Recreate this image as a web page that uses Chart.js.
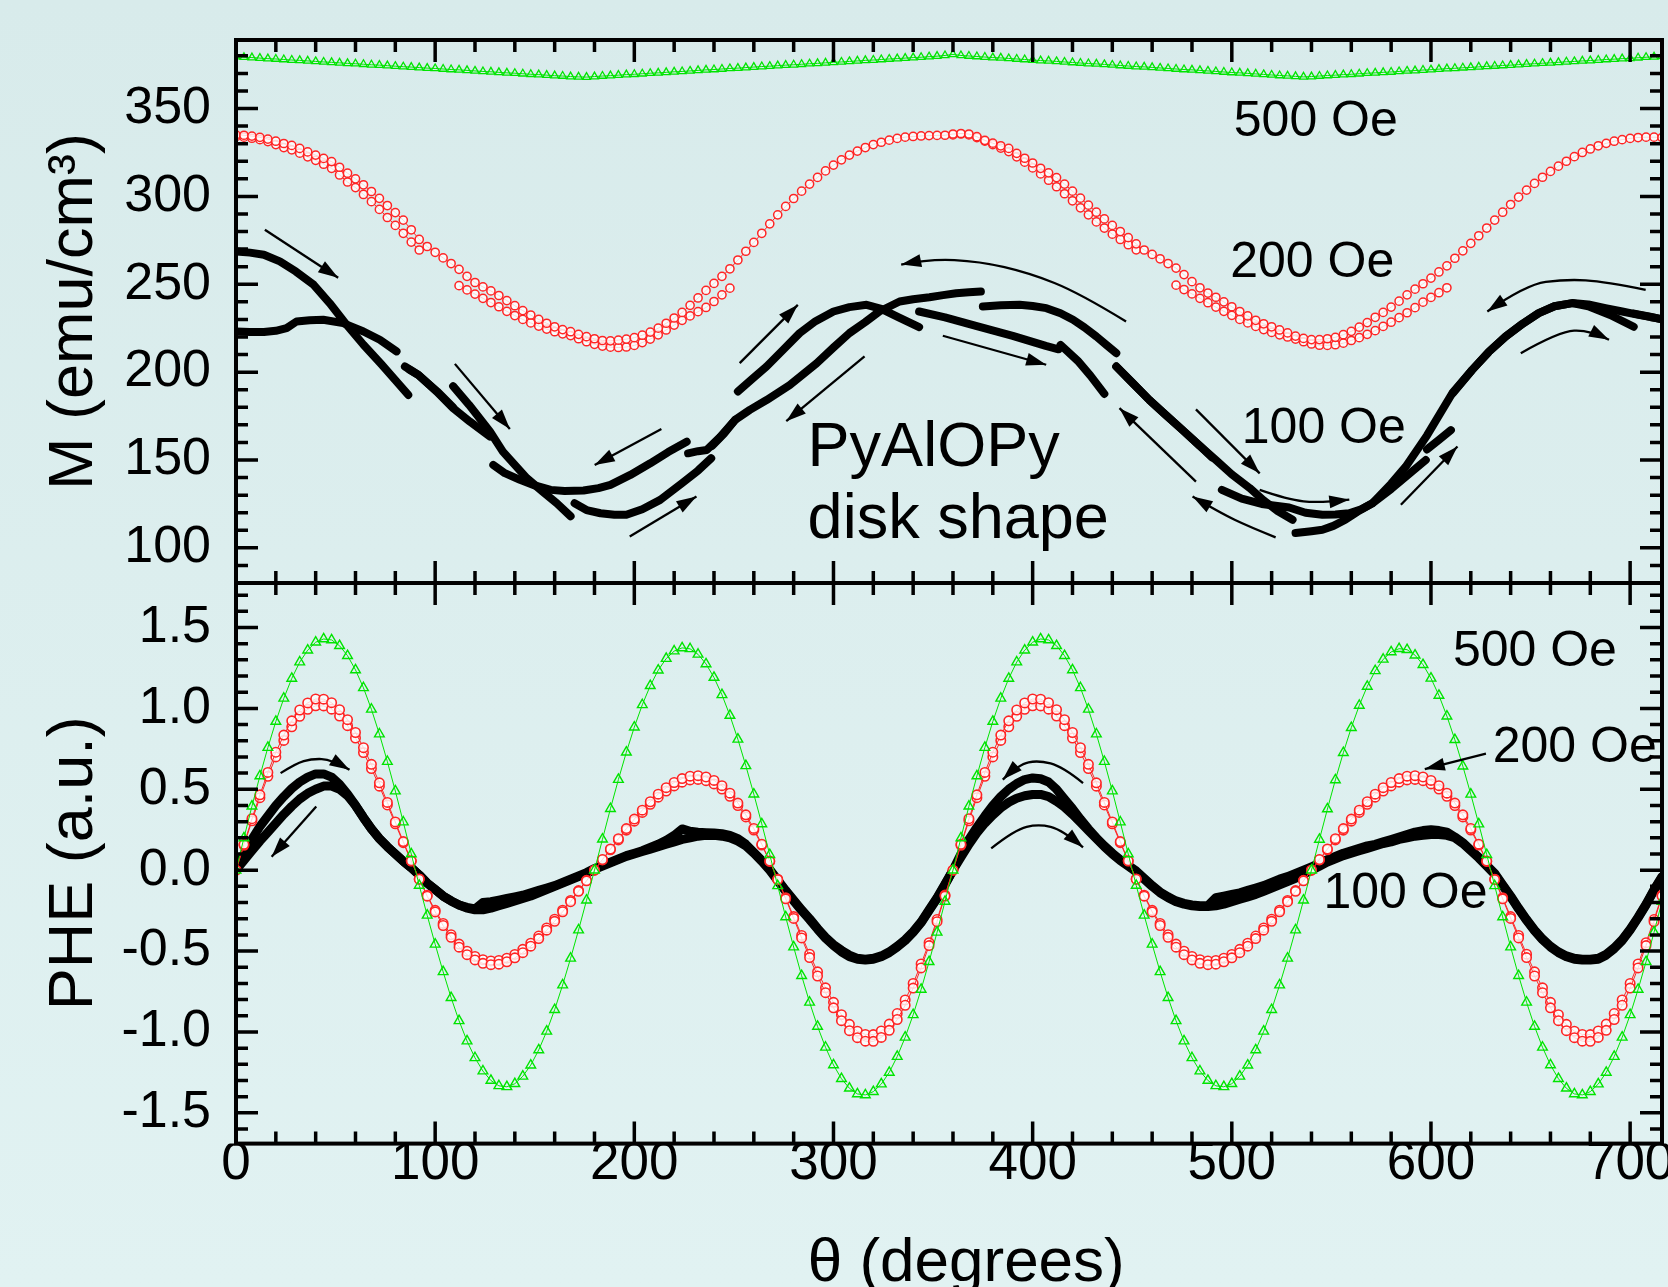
<!DOCTYPE html>
<html>
<head>
<meta charset="utf-8">
<script src="https://cdn.jsdelivr.net/npm/chart.js"></script>
<style>
  html, body { margin: 0; padding: 0; overflow: hidden; width: 1668px; height: 1287px;
    background: linear-gradient(#d8ebeb, #e1f2f2); }
  .panel { position: absolute; left: 0; top: 0; width: 1700px; height: 1330px; }
</style>
</head>
<body>
<div class="panel"><canvas id="bottomChart" width="1700" height="1330"></canvas></div>
<div class="panel"><canvas id="topChart" width="1700" height="1330"></canvas></div>
<script>
// rotation angle grid (degrees), same for every gridded series
const theta = [
  0,4,8,12,16,20,24,28,32,36,40,44,48,52,56,60,64,68,72,76,80,84,88,92,96,
  100,104,108,112,116,120,124,128,132,136,140,144,148,152,156,160,164,168,172,176,180,184,188,192,196,
  200,204,208,212,216,220,224,228,232,236,240,244,248,252,256,260,264,268,272,276,280,284,288,292,296,
  300,304,308,312,316,320,324,328,332,336,340,344,348,352,356,360,364,368,372,376,380,384,388,392,396,
  400,404,408,412,416,420,424,428,432,436,440,444,448,452,456,460,464,468,472,476,480,484,488,492,496,
  500,504,508,512,516,520,524,528,532,536,540,544,548,552,556,560,564,568,572,576,580,584,588,592,596,
  600,604,608,612,616,620,624,628,632,636,640,644,648,652,656,660,664,668,672,676,680,684,688,692,696,
  700,704,708,712,716
];

// ---- top panel: M (emu/cm3) ----
const mGreen500 = [
  379.5,379.2,379.0,378.7,378.4,378.2,377.9,377.6,377.4,377.1,376.8,376.5,376.3,376.0,375.7,375.5,375.2,374.9,374.7,374.4,374.1,373.8,373.6,373.3,373.0,
  372.8,372.5,372.2,372.0,371.7,371.4,371.1,370.9,370.6,370.3,370.1,369.8,369.5,369.3,369.0,368.7,368.5,368.2,368.0,367.9,368.2,368.5,368.7,369.0,369.3,
  369.5,369.8,370.1,370.3,370.6,370.9,371.1,371.4,371.7,372.0,372.2,372.5,372.8,373.0,373.3,373.6,373.9,374.1,374.4,374.7,374.9,375.2,375.5,375.7,376.0,
  376.3,376.5,376.8,377.1,377.4,377.6,377.9,378.2,378.4,378.7,379.0,379.2,379.5,379.8,380.2,380.8,380.2,379.9,379.6,379.3,379.0,378.8,378.5,378.2,377.9,
  377.6,377.3,377.1,376.8,376.5,376.2,375.9,375.6,375.4,375.1,374.8,374.5,374.2,373.9,373.7,373.4,373.1,372.8,372.5,372.2,372.0,371.7,371.4,371.1,370.8,
  370.5,370.3,370.0,369.7,369.4,369.1,368.8,368.6,368.3,368.0,368.2,368.5,368.8,369.0,369.3,369.5,369.8,370.1,370.3,370.6,370.8,371.1,371.4,371.6,371.9,
  372.1,372.4,372.7,372.9,373.2,373.4,373.7,374.0,374.2,374.5,374.7,375.0,375.3,375.5,375.8,376.0,376.3,376.6,376.8,377.1,377.3,377.6,377.9,378.1,378.4,
  378.6,378.9,379.2,379.4,379.7
];
const mRed200a = [
  335,334.8,334.3,333.6,332.6,331.4,330.1,329,327.3,325.3,323.5,321.6,319.8,316.6,313.2,310,306.6,302.8,298.9,294.8,290.8,286.5,281,275.5,271.5,
  268.2,265,261.8,258.5,254.5,251,248.5,246.2,243.6,240.7,237.8,235,232.5,230,227.8,225.8,224.2,223,221.5,220.2,219,218,217.8,218.2,218.8,
  219.6,221,222.8,225,227.8,230.8,234,238,242.2,246.5,250.5,254.5,258.8,263.8,268.8,273.8,279,284.4,289.5,294.3,298.8,303,307,310.8,314.5,
  317.8,320.8,323.5,325.8,327.8,329.5,330.8,332,333,333.7,334.1,334.4,334.6,334.7,334.8,335.5,335.8,335.5,334,331.9,330.3,328.8,327.3,324.5,321.7,
  319,316,313.4,310.7,307,303,299,295,291,287.2,283.5,280,276.5,273,269.5,267,264.5,261.8,259.2,255.5,251.5,248,245,242.6,240,
  237.2,234.5,232,229.5,227.5,225.8,224,222.3,220.5,219.2,218.5,218.5,219,219.8,221.3,223.2,225.6,228.2,231.2,234,237,240.4,244,247.2,250.3,
  253.5,257,260.5,264.8,269,273.3,277.6,282,286.5,291,295.4,299.6,303.6,307.4,310.9,314.2,317.2,320,322.6,325,327,328.8,330.2,331.4,332.3,
  333,333.5,333.7,333.7,333.5
];
const mRed200b = [
  334,333.7,333.1,332.3,331.2,329.5,327.8,326.5,324.6,322.5,320.5,318.3,316,312.2,308.2,305,301.1,297,292.6,288,283.5,279,274,269.5,null,
  null,null,null,249.2,246.8,244.4,242,239.6,237.2,234.6,232.2,230,228,226.2,224.5,223,221.8,220.8,219,217.3,215.8,214.8,214.2,214,214.3,
  215.2,216.8,218.8,221.2,224,226.8,229.5,232,234.4,236.8,240.2,244,247.8,null,null,null,null,null,null,null,null,null,null,null,null,
  null,null,null,null,null,null,null,null,null,null,null,null,null,null,null,335,335.5,335,333.5,331.5,329.5,327.5,325.5,322.5,319.5,
  316.2,312.8,309.2,305.5,301.5,297.5,293.5,289.5,285.5,282,278.5,275.5,272.5,269.6,null,null,null,null,249.5,247,244.5,242,239.5,237,234.6,
  232.3,230,228,226,224.2,222.6,221.2,220,218.8,217.3,216,215.3,215.2,215.6,216.5,218,219.6,221.5,223.6,226,228.4,231,233.8,236.7,239.8,
  242.5,245.2,248,null,null,null,null,null,null,null,null,null,null,null,null,null,null,null,null,null,null,null,null,null,null,
  null,null,null,null,null
];
// 100 Oe branches as [theta, M] points; null = jump between measured segments
const mBlack100fwd = [
  [0,268.7],[7,268],[14,266.8],[22,263],[30,257.3],[39,249.7],[47,239.3],[55.5,227],[64,215.6],[73,204.5],[80,195.5],[86.5,187], null,
  [87,201.5],[92,198],[101,189],[109,180], null,
  [109,192],[117,181.4],[127.5,166.2],[134,154.8],[146,139.7],[154,132],[161,125.5],[168,118], null,
  [170,125.4],[176,121.5],[183,119.7],[190,118.8],[196,118.8],[204,122],[213,127.3],[224,136.8],[232,144],[238.6,151], null,
  [239,158],[245,165],[250.6,172.8], null,
  [252,189],[259,196],[266.4,203.2],[275,213],[283,222.2],[291,229],[300,234.5],[308,237],[316.6,238.3],[324,236],[333,231],[343,225.6], null,
  [343,234.5],[356,231.1],[371.5,226.3],[390,220.6],[406.6,214.9],[413,213], null,
  [414,215.5],[422.6,206.5],[429,198],[436,187.6], null,
  [442,203.2],[450,194],[458.6,184.1],[467,175.5],[475.3,167],[484,158],[492,150],[500,141.8],[509,134],[516,127],[523,121],[530.5,116], null,
  [532,108.4],[540,109.5],[545.5,110.3],[551,112.5],[557,116],[563,120.5],[570.6,125.4],[580,133.5],[589,142],[597.4,150], null,
  [598,156],[604,161.5],[610,167], null,
  [611,188],[620.7,201.3],[629,211.5],[637.5,220.3],[646,227.5],[654,233.6],[662,237.5],[671,239.3],[679,237.5],[690,232.5],[701.8,225.8], null,
  [702,233.3],[710,231.5],[716,230]
];
const mBlack100back = [
  [0,223.1],[7,222.8],[14,222.8],[20,223.5],[25.4,225],[30.4,228.8],[37,229.5],[43.8,229.8],[53.8,227.9],[64,223.1],[72.2,218.4],[80.6,211.8], null,
  [84.8,203.2],[91.5,198.5],[100.7,189],[109,179.5],[117.4,171.9],[127.5,163.4], null,
  [129.2,147.2],[135,142.5],[142.6,138.7],[150,135.5],[158,133],[165,132.4],[174.5,132.6],[182,134],[188,135.8],[198,141.5],[208,148.1],[217,154.5],[226.3,160.4], null,
  [227,153.8],[232,155],[236.4,155.7],[243,163],[250.6,172.8],[258,178.5],[266.4,184.1],[278,192.6],[291.5,205],[300,214],[308,222.2],[316,228.5],[323,234.5],
  [333.2,240.2],[340,241.5],[348.2,242.6],[355,243.8],[361.6,244.9],[368,245.4],[374,245.9], null,
  [375,237.4],[384,238],[393.5,238.3],[400,237.6],[406.9,236.4],[414,233.5],[420.3,229.8],[426,225.5],[432,220.3],[437,215.5],[442,210.8], null,
  [442,203.2],[450,194],[458.6,184.1],[467,175.5],[475.3,167],[484,158],[490,151.5], null,
  [495,133],[505,128],[515,125],[528.8,123],[537,120],[545.5,118.8],[552,119],[558.9,119.7],[565,122],[570.6,125.4],[580,136.5],[587.3,146.2],[598,164],
  [610.7,188],[620.7,201.3],[629,211.5],[637.5,220.3],[646,227.5],[654.2,233.6],[662,237.5],[670.9,239.3],[679,238.5],[687.6,236.4],[696,234.5],[704.3,232.6],[712,231],[716,230]
];

// ---- bottom panel: PHE (a.u.) ----
const pheGreen500 = [
  0,0.199,0.395,0.582,0.758,0.919,1.062,1.185,1.286,1.360,1.409,1.429,1.423,1.387,1.326,1.238,1.127,0.994,0.841,0.671,0.489,0.297,0.100,
  -0.094,-0.279,-0.458,-0.628,-0.788,-0.931,-1.056,-1.160,-1.242,-1.300,-1.333,-1.339,-1.320,-1.274,-1.205,-1.111,-0.996,-0.862,-0.710,-0.545,-0.370,-0.186,
  0,0.191,0.380,0.560,0.729,0.884,1.022,1.140,1.236,1.308,1.354,1.374,1.368,1.334,1.275,1.191,1.084,0.956,0.809,0.645,0.470,0.286,0.096,
  -0.097,-0.289,-0.475,-0.652,-0.817,-0.966,-1.095,-1.204,-1.289,-1.348,-1.383,-1.389,-1.369,-1.322,-1.250,-1.152,-1.033,-0.894,-0.737,-0.566,-0.384,-0.193,
  0,0.199,0.395,0.582,0.758,0.919,1.062,1.185,1.286,1.360,1.409,1.429,1.423,1.387,1.326,1.238,1.127,0.994,0.841,0.671,0.489,0.297,0.100,
  -0.094,-0.279,-0.458,-0.628,-0.788,-0.931,-1.056,-1.160,-1.242,-1.300,-1.333,-1.339,-1.320,-1.274,-1.205,-1.111,-0.996,-0.862,-0.710,-0.545,-0.370,-0.186,
  0,0.190,0.378,0.558,0.726,0.881,1.018,1.136,1.232,1.303,1.349,1.369,1.363,1.329,1.270,1.186,1.080,0.952,0.806,0.643,0.469,0.285,0.096,
  -0.097,-0.289,-0.475,-0.652,-0.817,-0.966,-1.095,-1.204,-1.289,-1.348,-1.383,-1.389,-1.369,-1.322,-1.250,-1.152,-1.033,-0.894,-0.737,-0.566,-0.384,-0.193
];
const pheRed200a = [
  0,0.160,0.318,0.466,0.604,0.729,0.835,0.923,0.990,1.034,1.058,1.057,1.035,0.992,0.930,0.851,0.757,0.654,0.540,0.419,0.298,0.177,0.058,
  -0.056,-0.161,-0.258,-0.342,-0.415,-0.476,-0.522,-0.555,-0.576,-0.584,-0.581,-0.566,-0.542,-0.510,-0.470,-0.423,-0.371,-0.316,-0.257,-0.195,-0.131,-0.066,
  0,0.066,0.131,0.195,0.257,0.316,0.371,0.423,0.470,0.510,0.542,0.566,0.581,0.584,0.576,0.555,0.522,0.476,0.415,0.342,0.258,0.161,0.056,
  -0.058,-0.177,-0.298,-0.419,-0.540,-0.654,-0.757,-0.851,-0.930,-0.992,-1.035,-1.057,-1.058,-1.034,-0.990,-0.923,-0.835,-0.729,-0.604,-0.466,-0.318,-0.160,
  0,0.160,0.318,0.466,0.604,0.729,0.835,0.923,0.990,1.034,1.058,1.057,1.035,0.992,0.930,0.851,0.757,0.654,0.540,0.419,0.298,0.177,0.058,
  -0.056,-0.161,-0.258,-0.342,-0.415,-0.476,-0.522,-0.555,-0.576,-0.584,-0.581,-0.566,-0.542,-0.510,-0.470,-0.423,-0.371,-0.316,-0.257,-0.195,-0.131,-0.066,
  0,0.066,0.131,0.195,0.257,0.316,0.371,0.423,0.470,0.510,0.542,0.566,0.581,0.584,0.576,0.555,0.522,0.476,0.415,0.342,0.258,0.161,0.056,
  -0.058,-0.177,-0.298,-0.419,-0.540,-0.654,-0.757,-0.851,-0.930,-0.992,-1.035,-1.057,-1.058,-1.034,-0.990,-0.923,-0.835,-0.729,-0.604,-0.466,-0.318,-0.160
];
const pheRed200b = [
  0,0.154,0.305,0.448,0.580,0.700,0.802,0.886,0.951,0.994,1.016,1.015,0.995,0.953,0.893,0.817,0.727,0.628,0.519,0.403,0.287,0.170,0.056,
  -0.054,-0.155,-0.248,-0.329,-0.399,-0.457,-0.501,-0.533,-0.553,-0.561,-0.558,-0.544,-0.521,-0.489,-0.451,-0.407,-0.357,-0.303,-0.247,-0.187,-0.126,-0.063,
  0,0.063,0.126,0.187,0.247,0.303,0.357,0.407,0.451,0.489,0.521,0.544,0.558,0.561,0.553,0.533,0.501,0.457,0.399,0.329,0.248,0.155,0.054,
  -0.056,-0.170,-0.287,-0.403,-0.519,-0.628,-0.727,-0.817,-0.893,-0.953,-0.995,-1.015,-1.016,-0.994,-0.951,-0.886,-0.802,-0.700,-0.580,-0.448,-0.305,-0.154,
  0,0.154,0.305,0.448,0.580,0.700,0.802,0.886,0.951,0.994,1.016,1.015,0.995,0.953,0.893,0.817,0.727,0.628,0.519,0.403,0.287,0.170,0.056,
  -0.054,-0.155,-0.248,-0.329,-0.399,-0.457,-0.501,-0.533,-0.553,-0.561,-0.558,-0.544,-0.521,-0.489,-0.451,-0.407,-0.357,-0.303,-0.247,-0.187,-0.126,-0.063,
  0,0.063,0.126,0.187,0.247,0.303,0.357,0.407,0.451,0.489,0.521,0.544,0.558,0.561,0.553,0.533,0.501,0.457,0.399,0.329,0.248,0.155,0.054,
  -0.056,-0.170,-0.287,-0.403,-0.519,-0.628,-0.727,-0.817,-0.893,-0.953,-0.995,-1.015,-1.016,-0.994,-0.951,-0.886,-0.802,-0.700,-0.580,-0.448,-0.305,-0.154
];
const pheBlack100a = [
  0,0.1,0.19,0.27,0.335,0.4,0.455,0.505,0.545,0.575,0.595,0.595,0.575,0.53,0.47,0.4,0.325,0.255,0.195,0.145,0.1,0.055,0.015,-0.03,-0.08,
  -0.12,-0.16,-0.19,-0.215,-0.23,-0.24,-0.2,-0.195,-0.185,-0.175,-0.165,-0.155,-0.14,-0.125,-0.11,-0.095,-0.075,-0.055,-0.035,-0.015,0.01,0.03,0.05,0.07,0.09,
  0.105,0.12,0.14,0.16,0.185,0.215,0.255,0.24,0.235,0.232,0.23,0.225,0.215,0.195,0.16,0.11,0.06,0.005,-0.06,-0.125,-0.185,-0.245,-0.3,-0.36,-0.415,
  -0.46,-0.495,-0.525,-0.545,-0.55,-0.545,-0.53,-0.505,-0.47,-0.43,-0.38,-0.32,-0.245,-0.17,-0.085,0,0.1,0.19,0.265,0.335,0.4,0.455,0.5,0.535,0.56,
  0.57,0.565,0.545,0.5,0.44,0.38,0.315,0.255,0.2,0.15,0.105,0.065,0.03,-0.005,-0.05,-0.095,-0.135,-0.165,-0.19,-0.205,-0.215,-0.22,-0.22,-0.17,-0.16,
  -0.15,-0.14,-0.125,-0.11,-0.095,-0.075,-0.055,-0.04,-0.02,0,0.02,0.045,0.065,0.085,0.105,0.12,0.135,0.15,0.16,0.175,0.19,0.205,0.22,0.235,0.245,
  0.25,0.245,0.235,0.205,0.17,0.125,0.08,0.03,-0.02,-0.09,-0.16,-0.235,-0.305,-0.37,-0.425,-0.47,-0.505,-0.53,-0.545,-0.55,-0.55,-0.545,-0.52,-0.48,-0.43,
  -0.365,-0.29,-0.21,-0.12,-0.04
];
const pheBlack100b = [
  0,0.06,0.12,0.18,0.235,0.29,0.345,0.395,0.44,0.475,0.5,0.52,0.52,0.5,0.46,0.4,0.325,0.255,0.195,0.145,0.1,0.055,0.015,-0.03,-0.08,
  -0.12,-0.16,-0.19,-0.215,-0.235,-0.245,-0.245,-0.235,-0.22,-0.205,-0.19,-0.175,-0.16,-0.14,-0.12,-0.1,-0.08,-0.06,-0.04,-0.02,0.005,0.025,0.045,0.065,0.085,
  0.1,0.115,0.13,0.145,0.16,0.175,0.19,0.2,0.21,0.215,0.215,0.21,0.2,0.18,0.15,0.105,0.055,0,-0.065,-0.13,-0.19,-0.25,-0.305,-0.365,-0.42,
  -0.465,-0.505,-0.535,-0.55,-0.555,-0.55,-0.535,-0.51,-0.475,-0.435,-0.385,-0.325,-0.25,-0.175,-0.09,0,0.08,0.16,0.23,0.29,0.34,0.385,0.42,0.445,0.46,
  0.468,0.468,0.455,0.425,0.39,0.345,0.295,0.245,0.195,0.145,0.1,0.06,0.025,-0.01,-0.055,-0.1,-0.14,-0.17,-0.195,-0.21,-0.22,-0.225,-0.225,-0.22,-0.21,
  -0.195,-0.18,-0.165,-0.15,-0.13,-0.11,-0.09,-0.07,-0.05,-0.025,0,0.025,0.05,0.07,0.09,0.105,0.12,0.135,0.15,0.165,0.175,0.19,0.2,0.21,0.215,
  0.22,0.22,0.215,0.2,0.165,0.12,0.075,0.025,-0.025,-0.095,-0.165,-0.24,-0.31,-0.375,-0.43,-0.475,-0.51,-0.535,-0.55,-0.555,-0.555,-0.55,-0.525,-0.485,-0.435,
  -0.37,-0.295,-0.215,-0.125,-0.045
];

// ---- ticks ----
const xTicks = [0,20,40,60,80,100,120,140,160,180,200,220,240,260,280,300,320,340,360,380,400,420,440,460,480,500,520,540,560,580,600,620,640,660,680,700];
const xMajor = [0,100,200,300,400,500,600,700];
const topYTicks = [80,90,100,110,120,130,140,150,160,170,180,190,200,210,220,230,240,250,260,270,280,290,300,310,320,330,340,350,360,370,380];
const topYMajor = [100,150,200,250,300,350];
const botYTicks = [-1.6,-1.5,-1.4,-1.3,-1.2,-1.1,-1.0,-0.9,-0.8,-0.7,-0.6,-0.5,-0.4,-0.3,-0.2,-0.1,0,0.1,0.2,0.3,0.4,0.5,0.6,0.7,0.8,0.9,1.0,1.1,1.2,1.3,1.4,1.5,1.6,1.7];
const botYMajor = [-1.5,-1.0,-0.5,0,0.5,1.0,1.5];
const botYMajorText = ['-1.5','-1.0','-0.5','0.0','0.5','1.0','1.5'];

// ---- annotations (data coordinates) ----
const topNotes = [
  ['500 Oe', 501, 334.5, 50], ['200 Oe', 499.2, 254, 50], ['100 Oe', 505, 159.6, 50],
  ['PyAlOPy', 287, 146.5, 63], ['disk shape', 287, 105.5, 63]
];
const topArrows = [
  [[14.5,281],[51.3,253.7]],
  [[109.9,204.7],[137.5,167.6]],
  [[213.6,167.6],[180.1,147.2]],
  [[197.7,106.4],[231.2,129.2]],
  [[252.9,205.1],[282.1,238.3]],
  [[315.6,208.9],[276.3,172.1]],
  [[446.9,228.8],[423.5,245],[398.4,256.4],[373.3,263],[348.2,264.4],[334,261.2]],
  [[354.9,220.7],[406.8,204.2]],
  [[482,137.7],[443.6,179.5]],
  [[482,178.8],[514,142.4]],
  [[522,106],[508.8,112],[494,120],[480.3,129.2]],
  [[514,133],[528,127.5],[544,125.5],[559,127.5]],
  [[584.9,124.5],[613.3,157.7]],
  [[707.8,246.8],[687.7,251.6],[667.7,252.9],[647.6,249.7],[628.3,234.5]],
  [[645.1,210.8],[664.3,223.1],[679.4,224.1],[689.4,218.4]]
];
const botNotes = [
  ['500 Oe', 611, 1.265, 50], ['200 Oe', 631, 0.668, 50], ['100 Oe', 546, -0.236, 50]
];
const botArrows = [
  [[22.4,0.6],[30,0.66],[38,0.689],[48,0.685],[57,0.62]],
  [[40.3,0.394],[17.9,0.083]],
  [[425.3,0.538],[415,0.64],[403,0.679],[393,0.655],[385,0.56]],
  [[379.2,0.135],[391,0.25],[403,0.286],[415,0.25],[425.3,0.141]],
  [[627.6,0.72],[596.9,0.625]]
];

const FONT = "'Liberation Sans', Arial, Helvetica, sans-serif";
const GREEN = '#00e400';
const RED = '#ff2424';

function gridSeries(ys) {
  return theta.map((t, i) => ({ x: t, y: ys[i] }));
}
function pairSeries(pairs) {
  let lastX = 0;
  return pairs.map(p => {
    if (!p) return { x: lastX, y: null };
    lastX = p[0];
    return { x: p[0], y: p[1] };
  });
}

// frame + inward ticks on all four sides
function makeFrame(yTicks, yMajor) {
  return {
    id: 'frame',
    afterDatasetsDraw(chart) {
      const { ctx, chartArea: a, scales } = chart;
      ctx.save();
      ctx.strokeStyle = '#000';
      ctx.lineWidth = 3.5;
      ctx.beginPath();
      xTicks.forEach(v => {
        const px = scales.x.getPixelForValue(v);
        const len = xMajor.includes(v) ? 22 : 12;
        ctx.moveTo(px, a.top); ctx.lineTo(px, a.top + len);
        ctx.moveTo(px, a.bottom); ctx.lineTo(px, a.bottom - len);
      });
      yTicks.forEach(v => {
        const py = scales.y.getPixelForValue(v);
        const len = yMajor.some(m => Math.abs(m - v) < 1e-6) ? 22 : 12;
        ctx.moveTo(a.left, py); ctx.lineTo(a.left + len, py);
        ctx.moveTo(a.right, py); ctx.lineTo(a.right - len, py);
      });
      ctx.stroke();
      ctx.lineWidth = 4;
      ctx.strokeRect(a.left, a.top, a.right - a.left, a.bottom - a.top);
      ctx.restore();
    }
  };
}

function drawArrow(ctx, pts) {
  const n = pts.length;
  ctx.beginPath();
  ctx.moveTo(pts[0][0], pts[0][1]);
  if (n === 2) {
    ctx.lineTo(pts[1][0], pts[1][1]);
  } else {
    for (let i = 1; i < n - 1; i++) {
      const last = i === n - 2;
      const ex = last ? pts[i + 1][0] : (pts[i][0] + pts[i + 1][0]) / 2;
      const ey = last ? pts[i + 1][1] : (pts[i][1] + pts[i + 1][1]) / 2;
      ctx.quadraticCurveTo(pts[i][0], pts[i][1], ex, ey);
    }
  }
  ctx.stroke();
  const [x1, y1] = pts[n - 2], [x2, y2] = pts[n - 1];
  const ang = Math.atan2(y2 - y1, x2 - x1);
  const L = 20, W = 6.5;
  const bx = x2 - L * Math.cos(ang), by = y2 - L * Math.sin(ang);
  ctx.beginPath();
  ctx.moveTo(x2, y2);
  ctx.lineTo(bx + W * Math.sin(ang), by - W * Math.cos(ang));
  ctx.lineTo(bx - W * Math.sin(ang), by + W * Math.cos(ang));
  ctx.closePath();
  ctx.fill();
}

function makeNotes(notes, arrows) {
  return {
    id: 'notes',
    afterDatasetsDraw(chart) {
      const { ctx, scales: { x, y } } = chart;
      ctx.save();
      ctx.fillStyle = '#000';
      ctx.strokeStyle = '#000';
      ctx.lineWidth = 2.3;
      arrows.forEach(arr => drawArrow(ctx, arr.map(p => [x.getPixelForValue(p[0]), y.getPixelForValue(p[1])])));
      ctx.textAlign = 'left';
      ctx.textBaseline = 'alphabetic';
      notes.forEach(([txt, tx, ty, size]) => {
        ctx.font = size + 'px ' + FONT;
        ctx.fillText(txt, x.getPixelForValue(tx), y.getPixelForValue(ty));
      });
      ctx.restore();
    }
  };
}

function yAxis(min, max, ticks, labelFn, title) {
  return {
    type: 'linear', min: min, max: max,
    afterBuildTicks: s => { s.ticks = ticks.map(v => ({ value: v })); },
    afterFit: s => { s.width = 220; s.paddingTop = 0; s.paddingBottom = 0; },
    grid: { display: false, drawTicks: false },
    border: { display: false },
    ticks: { autoSkip: false, padding: 25, color: '#000', font: { family: FONT, size: 52 }, callback: labelFn },
    title: { display: true, text: title, color: '#000', font: { family: FONT, size: 63 }, padding: { top: 21, bottom: 0 } }
  };
}

const markerBase = { showLine: true, borderWidth: 1, pointHoverRadius: 0 };

// top panel
new Chart(document.getElementById('topChart'), {
  type: 'line',
  data: {
    datasets: [
      Object.assign({}, markerBase, { label: '500 Oe', data: gridSeries(mGreen500), borderColor: GREEN,
        pointStyle: 'triangle', pointRadius: 4.5, pointBorderWidth: 1.3, pointBorderColor: GREEN, pointBackgroundColor: 'rgba(0,0,0,0)', order: 1 }),
      Object.assign({}, markerBase, { label: '200 Oe', data: gridSeries(mRed200a), borderColor: RED,
        pointStyle: 'circle', pointRadius: 4.1, pointBorderWidth: 1.5, pointBorderColor: RED, pointBackgroundColor: 'rgba(255,255,255,0.8)', order: 2 }),
      Object.assign({}, markerBase, { label: '200 Oe (return)', data: gridSeries(mRed200b), borderColor: RED,
        pointStyle: 'circle', pointRadius: 4.1, pointBorderWidth: 1.5, pointBorderColor: RED, pointBackgroundColor: 'rgba(255,255,255,0.8)', order: 2 }),
      { label: '100 Oe', data: pairSeries(mBlack100fwd), borderColor: '#000', borderWidth: 8, pointRadius: 0,
        borderCapStyle: 'round', borderJoinStyle: 'round', order: 3 },
      { label: '100 Oe (return)', data: pairSeries(mBlack100back), borderColor: '#000', borderWidth: 8, pointRadius: 0,
        borderCapStyle: 'round', borderJoinStyle: 'round', order: 3 }
    ]
  },
  options: {
    responsive: false, animation: false, devicePixelRatio: 1,
    layout: { padding: { top: 40, left: 16, right: 38, bottom: 747 } },
    plugins: { legend: { display: false }, tooltip: { enabled: false } },
    scales: {
      x: { type: 'linear', min: 0, max: 716, display: false },
      y: yAxis(80, 389, topYTicks, v => topYMajor.includes(v) ? String(v) : null, 'M (emu/cm³)')
    }
  },
  plugins: [makeFrame(topYTicks, topYMajor), makeNotes(topNotes, topArrows)]
});

// bottom panel
new Chart(document.getElementById('bottomChart'), {
  type: 'line',
  data: {
    datasets: [
      Object.assign({}, markerBase, { label: '500 Oe', data: gridSeries(pheGreen500), borderColor: GREEN,
        pointStyle: 'triangle', pointRadius: 5.6, pointBorderWidth: 1.4, pointBorderColor: GREEN, pointBackgroundColor: 'rgba(0,0,0,0)', order: 1 }),
      Object.assign({}, markerBase, { label: '200 Oe', data: gridSeries(pheRed200a), borderColor: RED,
        pointStyle: 'circle', pointRadius: 4.7, pointBorderWidth: 1.6, pointBorderColor: RED, pointBackgroundColor: 'rgba(255,255,255,0.8)', order: 2 }),
      Object.assign({}, markerBase, { label: '200 Oe (return)', data: gridSeries(pheRed200b), borderColor: RED,
        pointStyle: 'circle', pointRadius: 4.7, pointBorderWidth: 1.6, pointBorderColor: RED, pointBackgroundColor: 'rgba(255,255,255,0.8)', order: 2 }),
      { label: '100 Oe', data: gridSeries(pheBlack100a), borderColor: '#000', borderWidth: 9, pointRadius: 0,
        borderCapStyle: 'round', borderJoinStyle: 'round', order: 3 },
      { label: '100 Oe (return)', data: gridSeries(pheBlack100b), borderColor: '#000', borderWidth: 9, pointRadius: 0,
        borderCapStyle: 'round', borderJoinStyle: 'round', order: 3 }
    ]
  },
  options: {
    responsive: false, animation: false, devicePixelRatio: 1,
    layout: { padding: { top: 583, left: 16, right: 38, bottom: 0 } },
    plugins: { legend: { display: false }, tooltip: { enabled: false } },
    scales: {
      x: {
        type: 'linear', min: 0, max: 716,
        afterBuildTicks: s => { s.ticks = xTicks.map(v => ({ value: v })); },
        afterFit: s => { s.height = 186.4; },
        grid: { display: false, drawTicks: false },
        border: { display: false },
        ticks: { autoSkip: false, maxRotation: 0, padding: 0, color: '#000',
          font: { family: FONT, size: 53, lineHeight: 0.8 },
          callback: v => xMajor.includes(v) ? String(v) : null },
        title: { display: true, text: '\u00a0\u00a0θ (degrees)', color: '#000', font: { family: FONT, size: 62 }, padding: { top: 0, bottom: 29 } }
      },
      y: yAxis(-1.69, 1.775, botYTicks, v => {
        const i = botYMajor.findIndex(m => Math.abs(m - v) < 1e-6);
        return i >= 0 ? botYMajorText[i] : null;
      }, 'PHE (a.u.)')
    }
  },
  plugins: [makeFrame(botYTicks, botYMajor), makeNotes(botNotes, botArrows)]
});
</script>
</body>
</html>
